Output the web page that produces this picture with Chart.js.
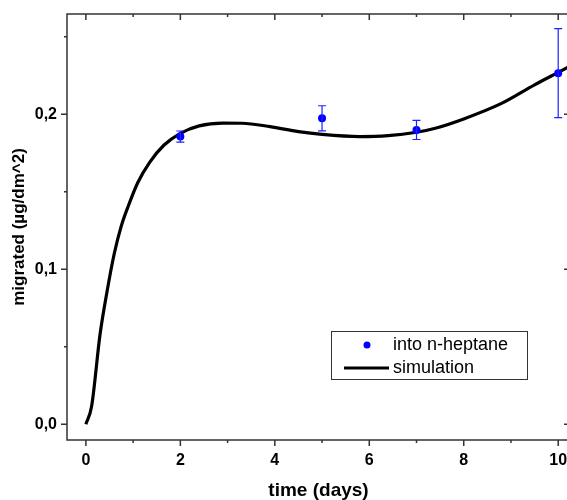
<!DOCTYPE html>
<html>
<head>
<meta charset="utf-8">
<script src="https://cdn.jsdelivr.net/npm/chart.js@4.4.0/dist/chart.umd.min.js"></script>
<style>
html, body { margin: 0; padding: 0; overflow: hidden; background: #fff; }
</style>
</head>
<body>
<canvas id="myChart" width="600" height="500"></canvas>
<script>
// measured points (into n-heptane)
var measDays = [2, 5, 7, 10];
var measValues = [0.1856, 0.1974, 0.1899, 0.2265];
var measErrors = [0.0036, 0.0081, 0.0062, 0.0287];

// simulation curve
var simDays = [0, 0.12, 0.3, 0.45, 0.6, 0.75, 0.9, 1.1, 1.35, 1.65, 2.0, 2.4, 2.9, 3.3, 3.9, 4.5, 5.0, 5.8, 6.4, 7.0, 7.4, 8.0, 8.8, 9.5, 10.0, 10.25];
var simValues = [0, 0.0114, 0.058, 0.086, 0.110, 0.128, 0.141, 0.156, 0.169, 0.180, 0.1877, 0.1925, 0.1943, 0.1942, 0.192, 0.1888, 0.1870, 0.1856, 0.1862, 0.1884, 0.191, 0.197, 0.207, 0.219, 0.227, 0.231];

var xTicks = [0, 2, 4, 6, 8, 10];
var xMinorTicks = [1, 3, 5, 7, 9];
var yTicks = [0, 0.1, 0.2];
var yMinorTicks = [0.05, 0.15, 0.25];

var seriesNames = ['into n-heptane', 'simulation'];

function toXY(xs, ys) {
	return xs.map(function (x, i) { return { x: x, y: ys[i] }; });
}

// box round the plot with ticks (bottom/left outward, top/right inward)
var framePlugin = {
	id: 'frame',
	afterDatasetsDraw: function (chart) {
		var c = chart.ctx, a = chart.chartArea, xs = chart.scales.x, ys = chart.scales.y;
		c.save();
		c.strokeStyle = '#333';
		c.lineWidth = 1.5;
		c.strokeRect(a.left, a.top, a.right - a.left, a.bottom - a.top);
		c.beginPath();
		function xt(list, len) {
			list.forEach(function (v) {
				var px = xs.getPixelForValue(v);
				c.moveTo(px, a.bottom); c.lineTo(px, a.bottom + len);
				c.moveTo(px, a.top); c.lineTo(px, a.top + len);
			});
		}
		function yt(list, len) {
			list.forEach(function (v) {
				var py = ys.getPixelForValue(v);
				c.moveTo(a.left, py); c.lineTo(a.left - len, py);
				c.moveTo(a.right, py); c.lineTo(a.right - len, py);
			});
		}
		xt(xTicks, 6); xt(xMinorTicks, 3);
		yt(yTicks, 6); yt(yMinorTicks, 3);
		c.stroke();
		c.restore();
	}
};

var errorBarPlugin = {
	id: 'errorBars',
	afterDatasetsDraw: function (chart) {
		var c = chart.ctx, xs = chart.scales.x, ys = chart.scales.y;
		c.save();
		c.strokeStyle = '#2020ff';
		c.lineWidth = 1.2;
		c.beginPath();
		measDays.forEach(function (d, i) {
			var px = xs.getPixelForValue(d);
			var top = ys.getPixelForValue(measValues[i] + measErrors[i]);
			var bot = ys.getPixelForValue(measValues[i] - measErrors[i]);
			c.moveTo(px, top); c.lineTo(px, bot);
			c.moveTo(px - 4, top); c.lineTo(px + 4, top);
			c.moveTo(px - 4, bot); c.lineTo(px + 4, bot);
		});
		c.stroke();
		c.restore();
	}
};

var legendPlugin = {
	id: 'boxLegend',
	afterDraw: function (chart) {
		var c = chart.ctx;
		c.save();
		c.fillStyle = '#fff';
		c.fillRect(331, 331, 197, 49);
		c.strokeStyle = '#333';
		c.lineWidth = 1;
		c.strokeRect(331.5, 331.5, 196, 48);
		c.fillStyle = '#0000ff';
		c.beginPath();
		c.arc(367, 345, 3.5, 0, Math.PI * 2);
		c.fill();
		c.strokeStyle = '#000';
		c.lineWidth = 3;
		c.beginPath();
		c.moveTo(344, 368); c.lineTo(389, 368);
		c.stroke();
		c.fillStyle = '#000';
		c.font = '18px "Liberation Sans", Arial, sans-serif';
		c.textBaseline = 'middle';
		c.fillText(seriesNames[0], 393, 345);
		c.fillText(seriesNames[1], 393, 368);
		c.restore();
	}
};

var ctx = document.getElementById('myChart');
var myChart = new Chart(ctx, {
	data: {
		datasets: [{
			type: 'line',
			label: seriesNames[1],
			data: toXY(simDays, simValues),
			borderColor: '#000',
			borderWidth: 3.2,
			pointRadius: 0,
			cubicInterpolationMode: 'monotone',
			fill: false,
			order: 2
		}, {
			type: 'scatter',
			label: seriesNames[0],
			data: toXY(measDays, measValues),
			backgroundColor: '#0000ff',
			borderWidth: 0,
			pointRadius: 4,
			order: 1
		}]
	},
	options: {
		responsive: false,
		animation: false,
		devicePixelRatio: 1,
		layout: { padding: { left: 0, right: 30, top: 14, bottom: 0 } },
		plugins: {
			legend: { display: false },
			tooltip: { enabled: false }
		},
		scales: {
			x: {
				type: 'linear',
				min: -0.4,
				max: 10.25,
				afterBuildTicks: function (s) { s.ticks = xTicks.map(function (v) { return { value: v }; }); },
				afterFit: function (s) { s.height = 60; s.paddingLeft = 0; s.paddingRight = 0; },
				grid: { display: false, drawTicks: false },
				border: { display: false },
				ticks: {
					color: '#000',
					padding: 11,
					maxRotation: 0,
					font: { family: '"Liberation Sans", Arial, sans-serif', size: 16, weight: 'bold' },
					callback: function (v) { return String(v); }
				},
				title: {
					display: true,
					text: 'time (days)',
					color: '#000',
					padding: { top: 0, bottom: 0 },
					font: { family: '"Liberation Sans", Arial, sans-serif', size: 19, weight: 'bold', lineHeight: 1 }
				}
			},
			y: {
				type: 'linear',
				min: -0.0102,
				max: 0.2647,
				afterBuildTicks: function (s) { s.ticks = yTicks.map(function (v) { return { value: v }; }); },
				afterFit: function (s) { s.width = 67; s.paddingTop = 0; s.paddingBottom = 0; },
				grid: { display: false, drawTicks: false },
				border: { display: false },
				ticks: {
					color: '#000',
					padding: 10,
					font: { family: '"Liberation Sans", Arial, sans-serif', size: 16, weight: 'bold' },
					callback: function (v) { return v.toFixed(1).replace('.', ','); }
				},
				title: {
					display: true,
					text: 'migrated (µg/dm^2)',
					color: '#000',
					padding: { top: 11, bottom: 0 },
					font: { family: '"Liberation Sans", Arial, sans-serif', size: 17, weight: 'bold', lineHeight: 1 }
				}
			}
		}
	},
	plugins: [framePlugin, errorBarPlugin, legendPlugin]
});
</script>
</body>
</html>
